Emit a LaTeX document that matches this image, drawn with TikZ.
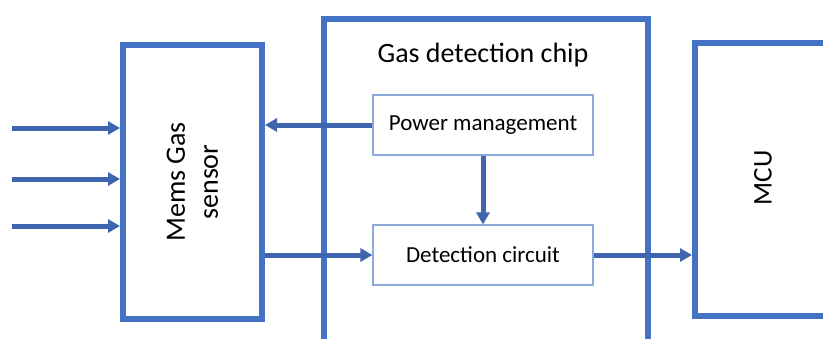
\documentclass[tikz,border=0pt]{standalone}
\usepackage{fontspec}
\setmainfont{Carlito}
\usepackage{xcolor}
\usetikzlibrary{arrows.meta,positioning}
\definecolor{boxc}{HTML}{4472C4}
\definecolor{arc}{HTML}{3E65AE}
\definecolor{thinc}{HTML}{8EA9DB}
\tikzset{
  ar/.style={-{Triangle[length=12pt,width=13pt]},line width=5pt,arc},
  bigbox/.style={draw=boxc,line width=6pt,fill=white,inner sep=0pt},
  subbox/.style={draw=thinc,line width=1.2pt,fill=white,minimum width=220pt,minimum height=60pt,font=\fontsize{23}{27}\selectfont}
}
\begin{document}
\begin{tikzpicture}[x=1pt,y=-1pt]
\useasboundingbox (0,0) rectangle (823,338);
% blocks
\node[bigbox,minimum width=139pt,minimum height=274pt] (mems) at (192.5,182) {};
\node[rotate=90,align=center,font=\fontsize{28}{33}\selectfont] (memst) at (mems.center) {Mems Gas\\sensor};
\node[bigbox,anchor=north west,minimum width=324pt,minimum height=340pt] (chip) at (321,16) {};
\node[font=\fontsize{28}{32}\selectfont] (chipt) at (483,55) {Gas detection chip};
\node[subbox] (pwr) at (483,125) {Power management};
\node[subbox] (det) at (483,255) {Detection circuit};
\node[bigbox,anchor=north west,minimum width=160pt,minimum height=273pt] (mcu) at (692,40) {};
\node[rotate=90,font=\fontsize{27}{31}\selectfont] (mcut) at (763,178) {MCU};
% inputs
\coordinate (in1) at (12,128);
\coordinate (in2) at (12,179);
\coordinate (in3) at (12,226);
\foreach \i in {1,2,3} \draw[ar] (in\i) -- (in\i -| mems.west);
% links
\draw[ar] (pwr.west) -- (pwr.west -| mems.east);
\draw[ar] (pwr.south) -- (det.north);
\draw[ar] (det.west -| mems.east) -- (det.west);
\draw[ar] (det.east) -- (det.east -| mcu.west);
\end{tikzpicture}
\end{document}
